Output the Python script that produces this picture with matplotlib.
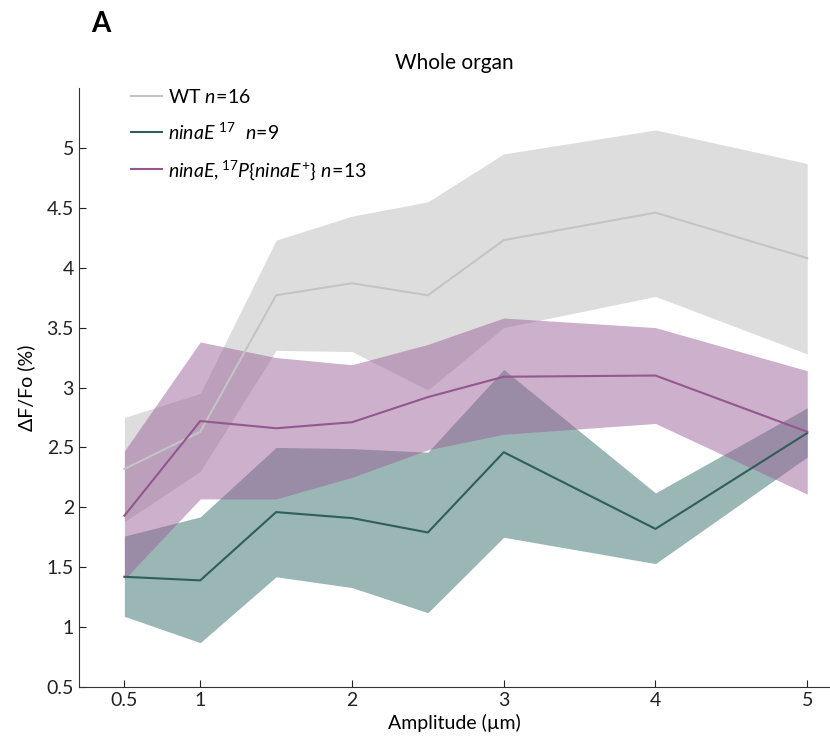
import numpy as np
import matplotlib.pyplot as plt

plt.rcParams['font.family'] = ['Lato', 'DejaVu Sans']
plt.rcParams['mathtext.fontset'] = 'custom'
plt.rcParams['mathtext.rm'] = 'Lato'
plt.rcParams['mathtext.it'] = 'Lato:italic'
plt.rcParams['mathtext.default'] = 'it'

# amplitudes tested (um)
amplitude = [0.5, 1, 1.5, 2, 2.5, 3, 4, 5]

# mean dF/Fo and band limits per genotype
wt_mean = [2.32, 2.63, 3.77, 3.87, 3.77, 4.23, 4.46, 4.08]
wt_upper = [2.75, 2.95, 4.23, 4.43, 4.55, 4.95, 5.15, 4.87]
wt_lower = [1.88, 2.30, 3.31, 3.30, 2.98, 3.50, 3.76, 3.28]

mut_mean = [1.42, 1.39, 1.96, 1.91, 1.79, 2.46, 1.82, 2.62]
mut_upper = [1.76, 1.92, 2.50, 2.49, 2.46, 3.15, 2.12, 2.83]
mut_lower = [1.09, 0.87, 1.42, 1.33, 1.12, 1.75, 1.53, 2.42]

res_mean = [1.93, 2.72, 2.66, 2.71, 2.92, 3.09, 3.10, 2.63]
res_upper = [2.47, 3.38, 3.25, 3.19, 3.36, 3.58, 3.50, 3.14]
res_lower = [1.40, 2.07, 2.07, 2.25, 2.48, 2.61, 2.70, 2.11]

xticks = [0.5, 1, 2, 3, 4, 5]
yticks = [0.5, 1, 1.5, 2, 2.5, 3, 3.5, 4, 4.5, 5]

fig = plt.figure(figsize=(8.3, 7.44), dpi=100)
ax = fig.add_axes([0.095, 0.0766, 0.905, 0.8051])

ax.fill_between(amplitude, wt_lower, wt_upper, color='#bcbcbc', alpha=0.5, lw=0)
ax.fill_between(amplitude, mut_lower, mut_upper, color='#376e6c', alpha=0.5, lw=0)
ax.fill_between(amplitude, res_lower, res_upper, color='#9b629a', alpha=0.5, lw=0)

ax.plot(amplitude, wt_mean, color='#c4c4c4', lw=1.5,
        label=r'$\mathrm{WT}\ \mathit{n\!=\!16}$')
ax.plot(amplitude, mut_mean, color='#2f5e5b', lw=1.5,
        label=r'$ninaE^{\ \mathit{17}}\ \ \mathit{n\!=\!9}$')
ax.plot(amplitude, res_mean, color='#94578f', lw=1.5,
        label=r'$ninaE,^{\mathit{17}}P\{ninaE^{+}\}\ \mathit{n\!=\!13}$')

ax.set_xlim(0.2, 5.15)
ax.set_ylim(0.5, 5.5)
ax.set_xticks(xticks)
ax.set_xticklabels(['0.5', '1', '2', '3', '4', '5'])
ax.set_yticks(yticks)
ax.set_yticklabels(['0.5', '1', '1.5', '2', '2.5', '3', '3.5', '4', '4.5', '5'])
ax.tick_params(direction='in', length=5, labelsize=14, colors='#222222')
for side in ['left', 'bottom']:
    ax.spines[side].set_color('#333333')
ax.spines['top'].set_visible(False)
ax.spines['right'].set_visible(False)

ax.set_xlabel('Amplitude (µm)', fontsize=14, labelpad=4)
ax.set_ylabel('ΔF/Fo (%)', fontsize=14, labelpad=8)
ax.set_title('Whole organ', fontsize=15, pad=14)

leg = ax.legend(loc='upper left', bbox_to_anchor=(0.046, 1.03), frameon=False,
                fontsize=14, handlelength=1.6, handletextpad=0.3, labelspacing=0.8)

fig.text(0.11, 0.968, 'A', fontsize=20, fontweight='bold', ha='left', va='center')

fig.savefig('out.png', dpi=100)
